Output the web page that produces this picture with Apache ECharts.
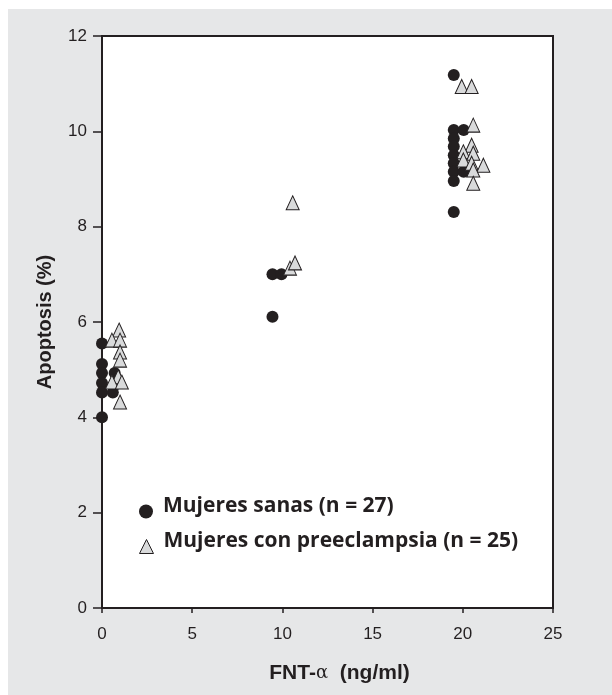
<!DOCTYPE html>
<html>
<head>
<meta charset="utf-8">
<script src="https://cdn.jsdelivr.net/npm/echarts@6/dist/echarts.min.js"></script>
<style>
html,body{margin:0;padding:0;background:#ffffff;}
#chart{width:612px;height:695px;}
</style>
</head>
<body>
<div id="chart"></div>
<script>
// Data
var sanasX = [0, 0, 0, 0, 0, 0, 0.7, 0.6, 9.45, 9.95, 9.45, 19.5, 19.5, 20.05, 19.5, 19.5, 19.5, 19.5, 19.5, 20.05, 19.5, 19.5];
var sanasY = [5.55, 5.12, 4.93, 4.72, 4.52, 4.0, 4.93, 4.52, 7.0, 7.0, 6.11, 11.18, 10.03, 10.03, 9.85, 9.68, 9.5, 9.33, 9.15, 9.15, 8.96, 8.31];
var preX = [0.95, 0.55, 1.0, 1.0, 1.0, 0.9, 0.55, 1.1, 1.0, 10.57, 10.42, 10.7, 19.94, 20.49, 20.58, 20.49, 20.03, 20.58, 20.03, 20.49, 21.14, 20.58, 20.58];
var preY = [5.83, 5.62, 5.62, 5.37, 5.2, 4.85, 4.74, 4.74, 4.32, 8.5, 7.13, 7.24, 10.94, 10.94, 10.13, 9.71, 9.57, 9.54, 9.4, 9.33, 9.29, 9.19, 8.91];
var seriesNames = ['Mujeres sanas (n = 27)', 'Mujeres con preeclampsia (n = 25)'];
var xTicks = [0, 5, 10, 15, 20, 25];
var yTicks = [0, 2, 4, 6, 8, 10, 12];

function pairs(xs, ys) { return xs.map(function (x, i) { return [x, ys[i]]; }); }

var ink = '#231f20';
var font = 'Liberation Sans';
var legendText = {
  fontFamily: 'Open Sans', fontWeight: 'bold', fontSize: 21, color: ink,
  rich: {t: {fontFamily: 'Open Sans', fontWeight: 'bold', fontSize: 21, color: ink, padding: [0, 0, 10, 5]}}
};
function legendFor(i, top, icon, style) {
  return {
    orient: 'vertical', left: 134, top: top, padding: 5,
    itemWidth: 14, itemHeight: 14,
    formatter: '{t|{name}}',
    textStyle: legendText,
    data: [{name: seriesNames[i], icon: icon, itemStyle: style}]
  };
}
var chart = echarts.init(document.getElementById('chart'), null, {renderer: 'canvas'});
chart.setOption({
  animation: false,
  backgroundColor: '#ffffff',
  graphic: [{
    type: 'rect', z: -10, silent: true,
    shape: {x: 8, y: 9, width: 604, height: 686},
    style: {fill: '#e6e7e8'}
  }],
  grid: {
    left: 102, right: 59, top: 36, bottom: 87,
    show: true, backgroundColor: '#ffffff', borderColor: ink, borderWidth: 2
  },
  legend: [
    legendFor(0, 491, 'circle', {color: ink}),
    legendFor(1, 526, 'triangle', {color: '#d9dadb', borderColor: ink, borderWidth: 1})
  ],
  xAxis: {
    type: 'value', min: xTicks[0], max: xTicks[xTicks.length - 1], interval: 5,
    name: '{a|FNT-}{g|α}{a|  (ng/ml)}',
    nameLocation: 'middle', nameGap: 55, nameMoveOverlap: false,
    nameTextStyle: {
      padding: [0, 0, 0, 24],
      rich: {
        a: {fontFamily: font, fontWeight: 'bold', fontSize: 21, color: ink},
        g: {fontFamily: 'DejaVu Serif', fontSize: 18, color: ink}
      }
    },
    axisLine: {lineStyle: {color: ink, width: 2}},
    axisTick: {show: true, inside: false, length: 5, lineStyle: {color: ink, width: 1.5}},
    axisLabel: {fontFamily: font, fontSize: 17, color: ink, margin: 18},
    splitLine: {show: false}
  },
  yAxis: {
    type: 'value', min: yTicks[0], max: yTicks[yTicks.length - 1], interval: 2,
    name: 'Apoptosis (%)',
    nameLocation: 'middle', nameGap: 47, nameMoveOverlap: false,
    nameTextStyle: {fontFamily: font, fontWeight: 'bold', fontSize: 20, color: ink},
    axisLine: {lineStyle: {color: ink, width: 2}},
    axisTick: {show: true, inside: false, length: 9, lineStyle: {color: ink, width: 1.5}},
    axisLabel: {fontFamily: font, fontSize: 17, color: ink, margin: 15},
    splitLine: {show: false}
  },
  series: [
    {
      name: seriesNames[0], type: 'scatter', symbol: 'circle', symbolSize: 12,
      itemStyle: {color: ink, opacity: 1},
      data: pairs(sanasX, sanasY), z: 2
    },
    {
      name: seriesNames[1], type: 'scatter', symbol: 'triangle', symbolSize: [13, 14],
      itemStyle: {color: '#d9dadb', borderColor: ink, borderWidth: 1, opacity: 1},
      data: pairs(preX, preY), z: 3
    }
  ]
});
</script>
</body>
</html>
